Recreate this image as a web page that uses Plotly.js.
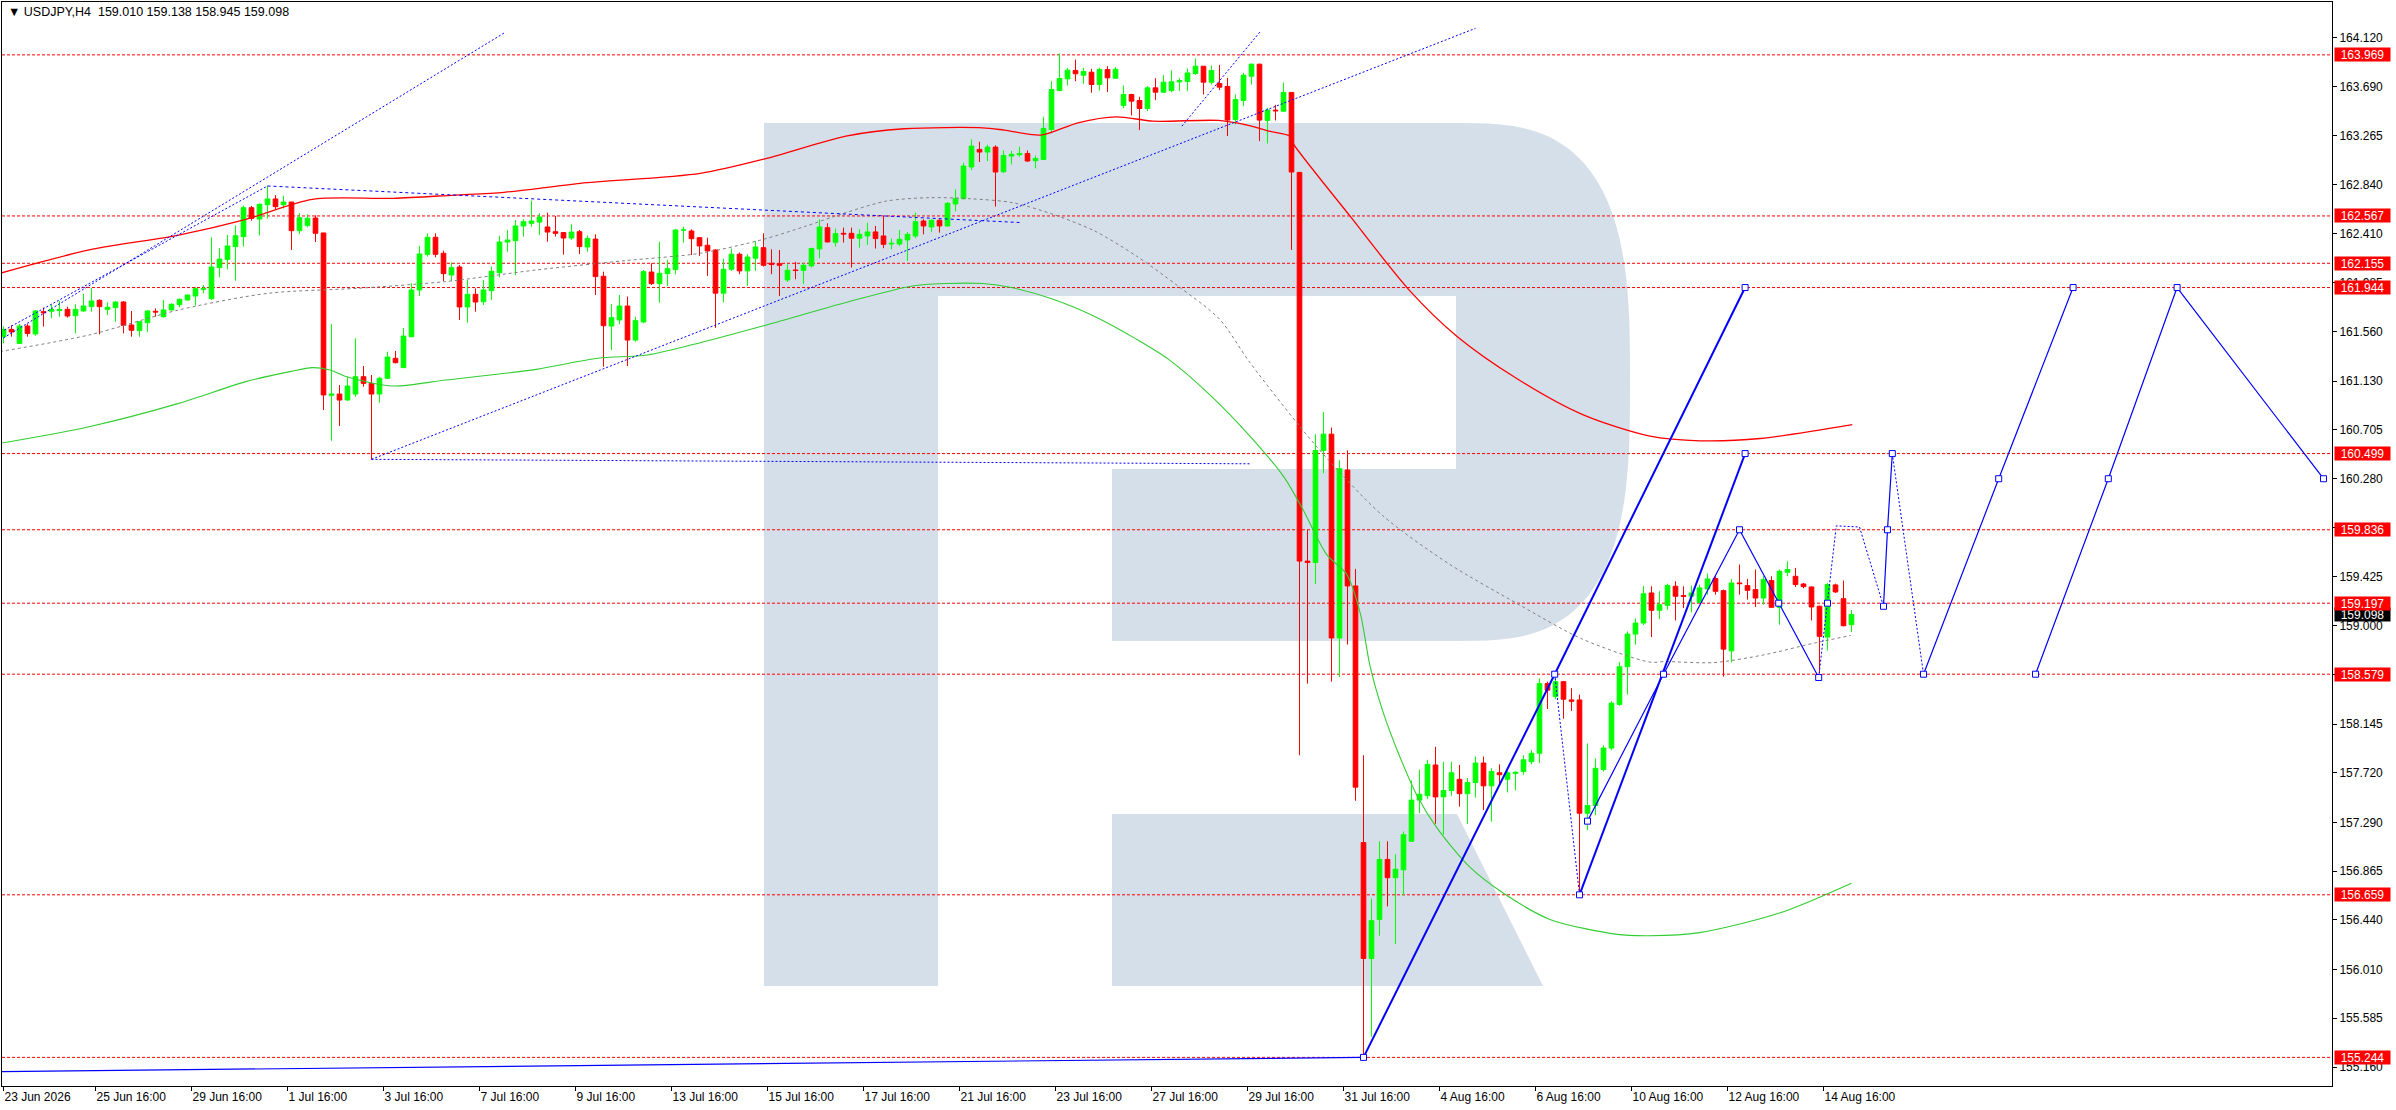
<!DOCTYPE html>
<html>
<head>
<meta charset="utf-8">
<script src="https://cdn.plot.ly/plotly-3.0.1.min.js"></script>
<style>
  html, body { margin: 0; padding: 0; background: #fff; overflow: hidden; }
  #chart { width: 2396px; height: 1110px; }
</style>
</head>
<body>
<div id="chart"></div>
<script>
const symbol = "USDJPY,H4";

// H4 candles (bar 0 = 23 Jun 2026)
const opens = [
  161.516,161.580,161.458,161.609,161.540,161.734,161.737,161.743,161.754,161.699,
  161.740,161.778,161.833,161.754,161.769,161.818,161.618,161.569,161.638,161.737,
  161.690,161.749,161.795,161.836,161.870,161.928,161.847,162.117,162.189,162.300,
  162.387,162.639,162.540,162.665,162.715,162.665,162.688,162.439,162.483,162.549,
  162.419,161.006,161.017,160.965,161.017,161.168,161.110,161.017,161.154,161.328,
  161.247,161.516,161.923,162.233,162.381,162.242,162.053,162.123,161.775,161.885,
  161.821,161.917,162.073,162.340,162.352,162.480,162.503,162.514,162.471,162.430,
  162.422,162.375,162.430,162.297,162.366,162.042,161.609,161.662,161.783,161.487,
  161.644,162.079,161.978,162.065,162.102,162.445,162.436,162.378,162.312,162.271,
  161.895,162.103,162.234,162.089,162.199,162.291,162.155,162.152,162.010,162.097,
  162.094,162.132,162.280,162.465,162.338,162.416,162.416,162.373,162.393,162.428,
  162.393,162.323,162.323,162.358,162.393,162.523,162.471,162.529,162.480,162.671,
  162.717,162.993,163.146,163.123,163.166,162.952,163.088,163.100,163.111,163.048,
  163.059,163.320,163.659,163.760,163.833,163.792,163.818,163.711,163.841,163.766,
  163.529,163.624,163.572,163.502,163.682,163.644,163.659,163.734,163.737,163.807,
  163.870,163.731,163.720,163.694,163.407,163.572,163.783,163.888,163.398,163.488,
  163.479,163.642,162.946,159.563,159.551,160.526,160.668,158.894,160.356,159.347,
  157.114,156.105,156.445,156.967,156.808,156.876,157.125,157.483,157.522,157.789,
  157.511,157.567,157.664,157.539,157.636,157.806,157.607,157.721,157.664,157.715,
  157.732,157.817,157.891,158.497,158.384,158.514,158.355,158.355,157.369,157.437,
  157.749,157.936,158.316,158.644,158.928,159.024,159.286,159.135,159.178,159.344,
  159.263,159.257,159.204,159.321,159.411,159.306,158.782,159.373,159.350,159.315,
  159.242,159.394,159.161,159.466,159.431,159.364,159.338,159.170,158.902,159.356,
  159.236,159.010
];
const highs = [
  161.604,161.615,161.627,161.627,161.749,161.769,161.798,161.827,161.778,161.798,
  161.888,161.937,161.841,161.815,161.827,161.827,161.740,161.647,161.749,161.763,
  161.836,161.807,161.850,161.882,161.946,161.966,162.381,162.285,162.401,162.485,
  162.657,162.654,162.677,162.828,162.749,162.744,162.690,162.590,162.581,162.572,
  162.420,161.627,161.096,161.168,161.502,161.261,161.183,161.168,161.386,161.392,
  161.592,161.981,162.306,162.416,162.416,162.265,162.163,162.140,162.010,161.937,
  162.010,162.126,162.395,162.445,162.532,162.538,162.700,162.590,162.596,162.567,
  162.427,162.494,162.445,162.398,162.407,162.082,161.798,161.879,161.865,161.690,
  162.097,162.155,162.343,162.184,162.454,162.474,162.451,162.384,162.378,162.277,
  162.196,162.283,162.248,162.234,162.349,162.416,162.277,162.271,162.147,162.167,
  162.161,162.291,162.538,162.503,162.457,162.465,162.465,162.451,162.509,162.480,
  162.567,162.370,162.445,162.428,162.596,162.538,162.538,162.538,162.688,162.798,
  163.030,163.233,163.213,163.187,163.181,163.137,163.132,163.169,163.137,163.094,
  163.430,163.740,163.980,163.856,163.928,163.856,163.847,163.856,163.870,163.862,
  163.702,163.630,163.604,163.697,163.766,163.792,163.833,163.766,163.850,163.937,
  163.872,163.876,163.882,163.769,163.624,163.812,163.893,163.891,163.508,163.534,
  163.728,163.645,162.950,159.835,160.668,160.861,160.725,160.441,160.526,159.495,
  157.874,156.627,157.125,157.125,157.012,157.210,157.653,157.749,157.834,157.947,
  157.817,157.817,157.789,157.675,157.862,157.862,157.760,157.794,157.749,157.732,
  157.874,157.919,158.542,158.514,158.571,158.520,158.457,158.401,157.976,157.845,
  157.959,158.344,158.684,158.951,159.064,159.347,159.344,159.300,159.367,159.388,
  159.344,159.350,159.359,159.455,159.431,159.315,159.408,159.533,159.408,159.490,
  159.431,159.431,159.490,159.562,159.504,159.373,159.344,159.175,159.373,159.367,
  159.394,159.138
];
const lows = [
  161.458,161.516,161.453,161.516,161.525,161.604,161.676,161.690,161.682,161.545,
  161.734,161.734,161.537,161.705,161.647,161.545,161.516,161.516,161.557,161.690,
  161.682,161.745,161.772,161.827,161.786,161.894,161.836,162.033,162.102,162.004,
  162.300,162.526,162.398,162.543,162.619,162.633,162.271,162.410,162.468,162.340,
  160.878,160.611,160.739,160.960,160.994,161.081,160.449,160.942,161.150,161.284,
  161.245,161.512,161.870,162.213,162.207,162.001,162.001,161.662,161.638,161.734,
  161.792,161.836,162.033,162.256,162.053,162.387,162.474,162.401,162.343,162.387,
  162.230,162.358,162.236,162.256,161.879,161.255,161.400,161.624,161.261,161.473,
  161.632,161.966,161.812,161.957,162.059,162.335,162.227,162.219,162.045,161.593,
  161.814,162.089,162.060,161.958,162.089,162.126,162.060,161.871,161.993,162.016,
  161.973,162.118,162.199,162.335,162.300,162.335,162.118,162.291,162.315,162.283,
  162.286,162.277,162.306,162.176,162.375,162.407,162.428,162.422,162.474,162.607,
  162.712,162.966,163.036,163.045,162.648,162.940,163.016,163.082,163.039,162.981,
  163.053,163.285,163.653,163.702,163.740,163.717,163.639,163.659,163.645,163.763,
  163.505,163.442,163.314,163.479,163.575,163.639,163.644,163.653,163.653,163.795,
  163.624,163.711,163.662,163.262,163.363,163.523,163.711,163.218,163.198,163.398,
  163.471,162.271,157.874,158.497,159.364,160.328,158.514,158.554,158.837,157.477,
  155.244,155.425,156.303,156.558,156.230,156.655,157.125,157.369,157.494,157.277,
  157.182,157.522,157.426,157.277,157.505,157.397,157.296,157.607,157.550,157.567,
  157.704,157.794,157.806,158.276,158.361,158.191,158.259,156.659,157.222,157.352,
  157.732,157.919,158.304,158.401,158.837,159.007,158.902,159.059,159.140,159.047,
  159.155,159.117,159.199,159.271,159.271,158.558,158.681,159.271,159.228,159.164,
  159.184,159.155,159.010,159.431,159.338,159.327,159.047,158.588,158.785,159.286,
  158.995,158.945
];
const closes = [
  161.580,161.557,161.609,161.545,161.740,161.725,161.754,161.754,161.696,161.754,
  161.783,161.827,161.778,161.772,161.818,161.615,161.572,161.647,161.740,161.731,
  161.749,161.798,161.841,161.879,161.934,161.934,162.123,162.192,162.306,162.395,
  162.639,162.546,162.668,162.715,162.648,162.688,162.439,162.552,162.546,162.416,
  161.009,161.017,160.965,161.087,161.168,161.110,161.017,161.154,161.339,161.290,
  161.522,161.923,162.236,162.381,162.233,162.065,162.117,161.775,161.885,161.818,
  161.923,162.085,162.340,162.358,162.480,162.517,162.523,162.558,162.427,162.416,
  162.375,162.427,162.300,162.372,162.039,161.612,161.682,161.783,161.487,161.656,
  162.082,161.978,162.068,162.108,162.445,162.445,162.369,162.306,162.263,161.895,
  162.103,162.234,162.089,162.210,162.297,162.138,162.144,162.138,162.094,162.092,
  162.138,162.283,162.471,162.341,162.413,162.410,162.373,162.407,162.428,162.370,
  162.320,162.329,162.364,162.407,162.517,162.480,162.529,162.480,162.677,162.717,
  163.001,163.175,163.123,163.166,162.949,163.094,163.103,163.111,163.045,163.068,
  163.329,163.667,163.763,163.836,163.804,163.824,163.711,163.841,163.769,163.844,
  163.624,163.566,163.502,163.682,163.644,163.731,163.734,163.746,163.812,163.870,
  163.731,163.833,163.688,163.401,163.581,163.792,163.888,163.401,163.488,163.482,
  163.642,162.949,159.563,159.551,160.526,160.668,158.894,160.367,159.347,157.596,
  156.105,156.434,156.967,156.808,156.882,157.182,157.483,157.534,157.794,157.511,
  157.567,157.721,157.539,157.636,157.806,157.607,157.732,157.704,157.721,157.726,
  157.834,157.891,158.497,158.440,158.514,158.361,158.344,157.369,157.437,157.760,
  157.936,158.327,158.644,158.928,159.024,159.279,159.135,159.184,159.350,159.257,
  159.257,159.286,159.330,159.408,159.300,158.797,159.373,159.367,159.309,159.242,
  159.402,159.161,159.475,159.490,159.359,159.341,159.164,158.908,159.359,159.295,
  159.001,159.098
];

const dateLabels = ["23 Jun 2026","25 Jun 16:00","29 Jun 16:00","1 Jul 16:00","3 Jul 16:00",
  "7 Jul 16:00","9 Jul 16:00","13 Jul 16:00","15 Jul 16:00","17 Jul 16:00","21 Jul 16:00",
  "23 Jul 16:00","27 Jul 16:00","29 Jul 16:00","31 Jul 16:00","4 Aug 16:00","6 Aug 16:00",
  "10 Aug 16:00","12 Aug 16:00","14 Aug 16:00"];

const priceTicks = [164.120,163.690,163.265,162.840,162.410,161.985,161.560,161.130,160.705,
  160.280,159.855,159.425,159.000,158.575,158.145,157.720,157.290,156.865,156.440,156.010,
  155.585,155.160];

// horizontal levels (red dashed, red tag on the scale)
const levels = [163.969,162.567,162.155,161.944,160.499,159.836,159.197,158.579,156.659,155.244];

// moving averages (bar index, price)
const redMaIdx = [-0.44,10.7,21.9,30.3,38.6,48.7,56.4,62.6,72.1,87.1,95.4,105.3,112.6,122.4,125.1,
  129.7,134.3,139.1,143.7,151.9,155.6,158.2,160.8,161,168.3,175.8,181.7,189.2,197.4,205.8,212.1,219.6,231.1];
const redMaVal = [162.068,162.271,162.401,162.538,162.712,162.720,162.749,162.773,162.851,162.938,163.068,
  163.262,163.326,163.334,163.314,163.271,163.378,163.430,163.392,163.398,163.355,163.305,163.262,163.218,
  162.567,161.915,161.518,161.150,160.838,160.651,160.610,160.630,160.750];

const greenMaIdx = [-0.44,10.7,21.9,30.3,35.8,38.6,40.8,43.1,48.7,55.3,66.6,74.3,80.5,87.1,95,105.3,113.6,
  117.8,122.4,126,131.2,136.4,141.6,145.6,150.8,155.8,160,162.4,165.4,167.9,169.6,170.8,172.4,174.2,176.7,
  179.2,183.3,187.5,193.3,201.7,205.8,212,222,231];
const greenMaVal = [160.588,160.733,160.936,161.125,161.212,161.247,161.226,161.163,161.087,161.139,161.232,
  161.328,161.357,161.464,161.611,161.814,161.958,161.979,161.979,161.944,161.842,161.692,161.495,161.321,
  161.010,160.651,160.300,160.016,159.619,159.449,159.109,158.656,158.259,157.919,157.522,157.239,156.899,
  156.672,156.445,156.315,156.303,156.330,156.500,156.760];

const grayIdx = [-0.44,10.7,21.9,33.1,44.2,55.3,66.6,77.7,87.1,95,100.1,105.3,110.4,115.7,120.8,126.1,131.2,
  136.4,141.6,146.8,152,155.8,164.2,172.4,180.8,189.2,197.4,205.8,207.7,213.8,220.1,226.3,230.9];
const grayVal = [161.387,161.531,161.749,161.894,161.937,161.996,162.097,162.178,162.242,162.364,162.474,
  162.596,162.697,162.726,162.717,162.683,162.581,162.436,162.219,161.958,161.669,161.291,160.555,159.959,
  159.534,159.194,158.883,158.684,158.689,158.680,158.748,158.849,158.916];

// trend lines drawn on the chart: [bar index, price] pairs
const dottedLines = [
  [[-0.44,161.487],[62.6,164.160]],
  [[0.1,161.574],[33,162.828]],
  [[46,160.449],[184,164.200]],
  [[46,160.449],[156,160.410]],
  [[147.3,163.349],[157.2,164.180]]
];
const dashedLines = [
  [[33,162.828],[127,162.510]]
];
const thickLines = [
  [[170,155.244],[193.9,158.579],[217.7,161.944]],
  [[197,156.659],[217.7,160.499]]
];
const thinLines = [
  [[-0.44,155.120],[170,155.244]],
  [[198,157.300],[207.5,158.579],[217,159.836],[221.9,159.197],[226.9,158.550]],
  [[235,159.170],[235.5,159.836],[236.1,160.499]],
  [[240,158.579],[249.4,160.280],[258.7,161.944]],
  [[254,158.579],[263.1,160.280],[271.7,161.944],[290,160.280]]
];
const forecastDotted = [
  [[193.9,158.579],[197,156.659]],
  [[226.9,158.550],[228,159.197],[229.1,159.870],[232,159.860],[233.6,159.495],[235,159.170]],
  [[236.1,160.499],[238.1,159.504],[240,158.579]]
];
const nodeIdx = [170,193.9,217.7,197,217.7,198,207.5,217,221.9,226.9,228,235,235.5,236.1,240,249.4,258.7,254,263.1,271.7,290];
const nodeVal = [155.244,158.579,161.944,156.659,160.499,157.300,158.579,159.836,159.197,158.550,159.197,
  159.170,159.836,160.499,158.579,160.280,161.944,158.579,160.280,161.944,160.280];

// ---- geometry
const W = 2396, H = 1110, ML = 2, MR = 64, MT = 2, MB = 24;
const PW = W - ML - MR, PH = H - MT - MB;
const BAR = 8;
const xMin = -0.1875, xMax = xMin + PW / BAR;
const yMin = 154.995, yMax = 164.429;
const px = x => ((x - ML) / PW).toFixed(5);
const py = y => (1 - (y - MT) / PH).toFixed(5);
const FONT = "Liberation Sans, Arial, sans-serif";
const WM = "#d5dfea";

function poly(pts) {
  return "M" + pts.map(p => px(p[0]) + "," + py(p[1])).join(" L") + " Z";
}
function rect(x0, y0, x1, y1) {
  return poly([[x0, y0], [x1, y0], [x1, y1], [x0, y1]]);
}
const cap = [];
for (let k = 0; k <= 80; k++) {
  const t = -Math.PI / 2 + Math.PI * k / 80;
  const c = Math.cos(t), s = Math.sin(t);
  cap.push([1456 + 174 * Math.pow(Math.abs(c), 2 / 3), 382 + 259 * Math.sign(s) * Math.pow(Math.abs(s), 2 / 3)]);
}

const shapes = [];
[rect(764, 123, 938, 986), rect(938, 123, 1457, 296), rect(1112, 469, 1457, 641), poly(cap),
 poly([[1112, 814], [1457, 814], [1543, 986], [1112, 986]])].forEach(p => {
  shapes.push({ type: "path", xref: "paper", yref: "paper", path: p, fillcolor: WM, line: { width: 0 }, layer: "below" });
});
levels.forEach(v => {
  shapes.push({ type: "line", xref: "paper", x0: 0, x1: 1, yref: "y", y0: v, y1: v,
    line: { color: "#ff0000", width: 1, dash: "3px,2px" }, layer: "below" });
});

const bars = opens.map((_, i) => i);
const traces = [];
traces.push({
  type: "candlestick", x: bars, open: opens, high: highs, low: lows, close: closes,
  increasing: { line: { color: "#00ff00", width: 1 }, fillcolor: "#00ff00" },
  decreasing: { line: { color: "#ff0000", width: 1 }, fillcolor: "#ff0000" },
  whiskerwidth: 0, hoverinfo: "skip", showlegend: false
});
function line(xs, ys, color, width, dash, smooth) {
  traces.push({ type: "scatter", mode: "lines", x: xs, y: ys, hoverinfo: "skip", showlegend: false,
    line: { color: color, width: width, dash: dash || "solid",
            shape: smooth ? "spline" : "linear", smoothing: smooth ? 0.8 : undefined } });
}
line(redMaIdx, redMaVal, "#ff0000", 1.3, null, true);
line(greenMaIdx, greenMaVal, "#32cd32", 1.1, null, true);
line(grayIdx, grayVal, "#808080", 1, "3px,3px", true);
dottedLines.forEach(l => line(l.map(p => p[0]), l.map(p => p[1]), "#0000ff", 1, "2px,2px"));
dashedLines.forEach(l => line(l.map(p => p[0]), l.map(p => p[1]), "#0000ff", 1, "3px,3px"));
thickLines.forEach(l => line(l.map(p => p[0]), l.map(p => p[1]), "#0000ff", 2));
thinLines.forEach(l => line(l.map(p => p[0]), l.map(p => p[1]), "#0000ff", 1.2));
forecastDotted.forEach(l => line(l.map(p => p[0]), l.map(p => p[1]), "#0000ff", 1, "2px,2px"));
traces.push({ type: "scatter", mode: "markers", x: nodeIdx, y: nodeVal, hoverinfo: "skip", showlegend: false,
  marker: { symbol: "square", size: 6, color: "#ffffff", line: { color: "#0000ff", width: 1 } } });

const last = opens.length - 1;
const annotations = [{
  xref: "paper", yref: "paper", x: px(6), y: py(3), xanchor: "left", yanchor: "top", showarrow: false,
  text: "\u25BC\u00a0" + symbol + "\u00a0\u00a0" + [opens[last], highs[last], lows[last], closes[last]].map(v => v.toFixed(3)).join(" "),
  font: { family: FONT, size: 12.5, color: "#000" }
}];
// current price tag first, level tags on top of it
annotations.push({ xref: "paper", x: px(2334), xanchor: "left", yref: "y", y: closes[last], yanchor: "middle",
  text: closes[last].toFixed(3), showarrow: false, bgcolor: "#000000", width: 53, height: 11, borderpad: 1,
  align: "center", font: { family: FONT, size: 12, color: "#ffffff" } });
levels.forEach(v => {
  annotations.push({ xref: "paper", x: px(2334), xanchor: "left", yref: "y", y: v, yanchor: "middle",
    text: v.toFixed(3), showarrow: false, bgcolor: "#ff0000", width: 53, height: 11, borderpad: 1,
    align: "center", font: { family: FONT, size: 12, color: "#ffffff" } });
});

const layout = {
  width: W, height: H,
  margin: { l: ML, r: MR, t: MT, b: MB, pad: 0 },
  paper_bgcolor: "#ffffff", plot_bgcolor: "#ffffff",
  showlegend: false, boxgap: 0.42, boxgroupgap: 0,
  font: { family: FONT, size: 12, color: "#000" },
  xaxis: {
    range: [xMin, xMax], fixedrange: true, rangeslider: { visible: false },
    tickmode: "array", tickvals: dateLabels.map((_, k) => k === 0 ? 0 : 11.5 + 12 * (k - 1)), ticktext: dateLabels,
    ticks: "outside", ticklen: 4, tickcolor: "#000", ticklabelposition: "outside right",
    showgrid: false, zeroline: false, showline: true, mirror: true, linecolor: "#000", linewidth: 1,
    tickfont: { family: FONT, size: 12, color: "#000" }
  },
  yaxis: {
    range: [yMin, yMax], side: "right", fixedrange: true,
    tickmode: "array", tickvals: priceTicks, ticktext: priceTicks.map(v => v.toFixed(3)),
    ticks: "outside", ticklen: 4, tickcolor: "#000",
    showgrid: false, zeroline: false, showline: true, mirror: true, linecolor: "#000", linewidth: 1,
    tickfont: { family: FONT, size: 12, color: "#000" }
  },
  shapes: shapes,
  annotations: annotations
};

Plotly.newPlot("chart", traces, layout, { displayModeBar: false, staticPlot: true });
</script>
</body>
</html>
